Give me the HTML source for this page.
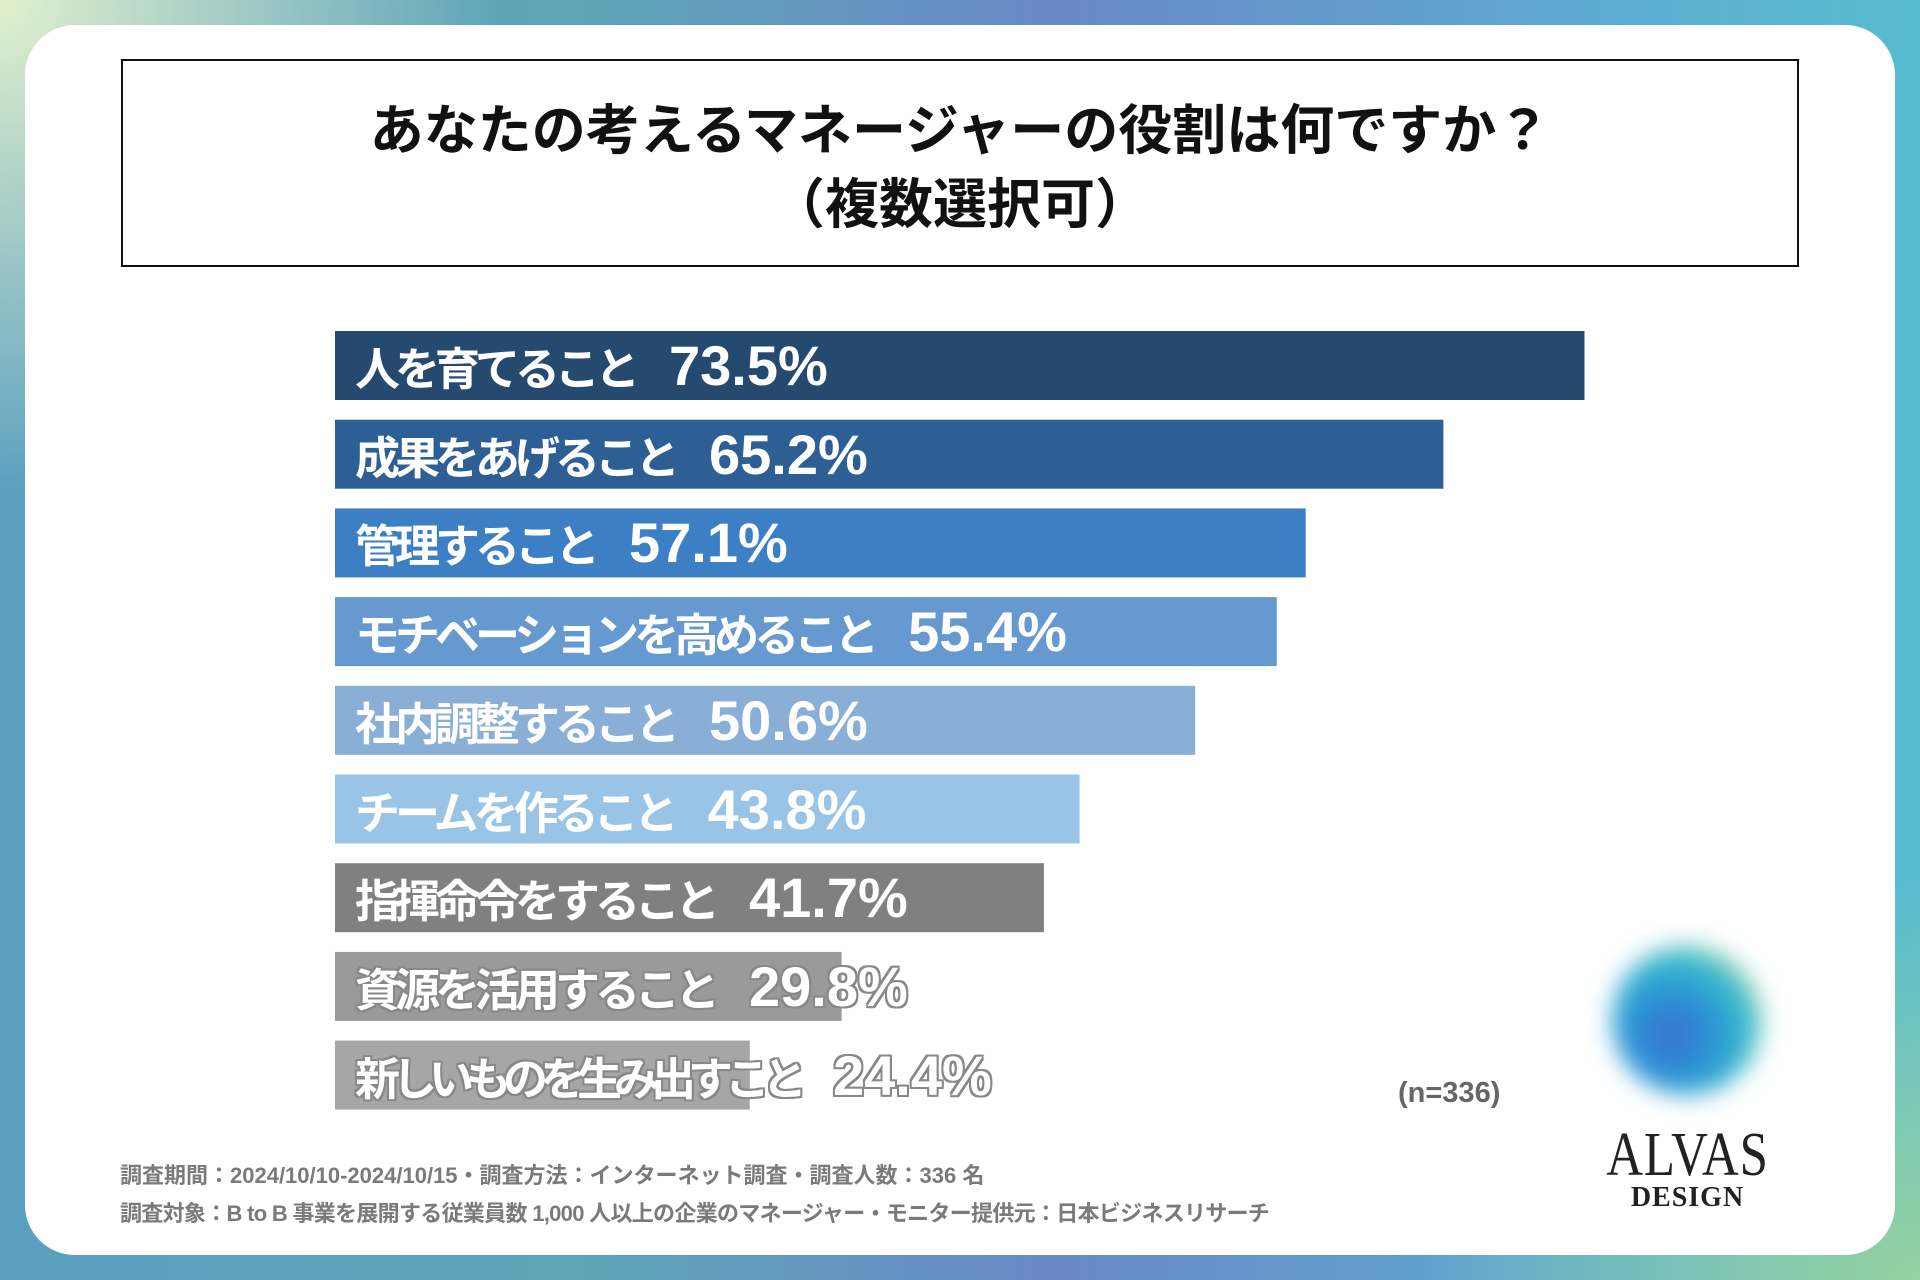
<!DOCTYPE html>
<html><head><meta charset="utf-8">
<style>
html,body{margin:0;padding:0;}
body{width:1920px;height:1280px;position:relative;overflow:hidden;font-family:"Liberation Sans","Noto Sans CJK JP",sans-serif;
background:
 radial-gradient(ellipse 500px 500px at 0 0, rgba(225,240,205,1) 0%, rgba(225,240,205,0) 100%),
 radial-gradient(ellipse 500px 400px at 1920px 1280px, rgba(150,210,160,1) 0%, rgba(150,210,160,0) 100%),
 linear-gradient(90deg,#5a9fc0 0%,#5fa6b8 30%,#6888c6 55%,#5fa8d0 80%,#58bcd0 100%);}
#card{position:absolute;left:25px;top:25px;width:1870px;height:1230px;background:#fff;border-radius:50px;}
#title{position:absolute;left:121px;top:59px;width:1674px;height:204px;border:2.5px solid #111;text-align:center;font-weight:bold;font-size:54px;line-height:76px;color:#111;}
#title div{position:relative;}
.lbl{position:absolute;font-weight:bold;font-size:45px;color:#fff;white-space:pre;line-height:69px;letter-spacing:-5px;}
.lbl .num{font-size:56px;letter-spacing:0;margin-left:34px;}
.out{text-shadow:-2px -2px 0 #888,2px -2px 0 #888,-2px 2px 0 #888,2px 2px 0 #888,0 2px 0 #888,0 -2px 0 #888,2px 0 0 #888,-2px 0 0 #888;}
#n{position:absolute;left:1398px;top:1077px;font-size:29px;font-weight:bold;color:#666;}
.foot{position:absolute;left:120px;font-size:22px;font-weight:bold;color:#7a7a7a;}
#orb{position:absolute;left:1612px;top:945px;width:150px;height:150px;border-radius:50%;
background:radial-gradient(circle at 40% 60%,#3b6fd0 0%,#2a96d6 35%,#3bbccc 60%,rgba(150,200,120,0.6) 80%,rgba(255,255,255,0) 100%);filter:blur(12px);}
#alvas{position:absolute;left:1580px;top:1120px;width:215px;text-align:center;font-family:"Liberation Serif",serif;font-size:62px;color:#222;letter-spacing:1px;transform:scaleX(0.82);}
#design{position:absolute;left:1580px;top:1182px;width:215px;text-align:center;font-family:"Liberation Serif",serif;font-weight:bold;font-size:28px;color:#222;letter-spacing:1px;}
</style></head>
<body>
<div id="card"></div>
<div id="title"><div style="top:32px">あなたの考えるマネージャーの役割は何ですか？</div><div style="top:30px">（複数選択可）</div></div>
<svg id="chart" width="1920" height="1280" style="position:absolute;left:0;top:0"></svg>
<div id="labels"></div>
<div id="n">(n=336)</div>
<div class="foot" style="top:1158px">調査期間：2024/10/10-2024/10/15・調査方法：インターネット調査・調査人数：336 名</div>
<div class="foot" style="top:1196px;letter-spacing:-0.7px">調査対象：B to B 事業を展開する従業員数 1,000 人以上の企業のマネージャー・モニター提供元：日本ビジネスリサーチ</div>
<div id="orb"></div>
<div id="alvas">ALVAS</div>
<div id="design">DESIGN</div>
<script>
const categories=["人を育てること","成果をあげること","管理すること","モチベーションを高めること","社内調整すること","チームを作ること","指揮命令をすること","資源を活用すること","新しいものを生み出すこと"];
const values=[73.5,65.2,57.1,55.4,50.6,43.8,41.7,29.8,24.4];
const colors=["#25496f","#2e5f94","#3d7fc4","#6699cf","#8aafd6","#9ac4e6","#808080","#9a9a9a","#a6a6a6"];
const x0=335, pxPer=17.0, y0=331, pitch=88.7, bh=69;
const xs=v=>x0+v*pxPer;
const ys=i=>y0+i*pitch;
const svg=document.getElementById('chart');
const lab=document.getElementById('labels');
values.forEach((v,i)=>{
 const r=document.createElementNS('http://www.w3.org/2000/svg','rect');
 r.setAttribute('x',x0);r.setAttribute('y',ys(i));r.setAttribute('width',xs(v)-x0);r.setAttribute('height',bh);r.setAttribute('fill',colors[i]);
 
 
 svg.appendChild(r);
 const d=document.createElement('div');
 d.className='lbl'+(i>=7?' out':'');
 if(i===8) d.style.letterSpacing='-8px';
 d.style.left=(x0+20)+'px';d.style.top=ys(i)+'px';
 d.textContent=categories[i];
 const s=document.createElement('span');
 s.className='num';
 s.textContent=v.toFixed(1)+'%';
 d.appendChild(s);
 
 
 lab.appendChild(d);
});
</script>
</body></html>
